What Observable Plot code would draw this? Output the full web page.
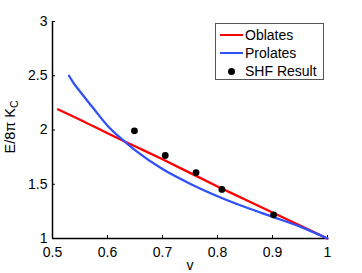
<!DOCTYPE html>
<html>
<head>
<meta charset="utf-8">
<script src="https://cdn.jsdelivr.net/npm/d3@7"></script>
<script src="https://cdn.jsdelivr.net/npm/@observablehq/plot@0.6"></script>
<style>
  html, body { margin: 0; padding: 0; background: #fff; }
  #wrap { position: relative; width: 362px; height: 273px; font-family: "Liberation Sans", Arial, sans-serif; }
  #legend { position: absolute; left: 215px; top: 23px; width: 107px; height: 55px; border: 1px solid #555; background: #fff; font-size: 14px; }
  .row { position: absolute; left: 0; height: 18px; }
  .row span.lbl { position: absolute; left: 29px; top: 0; line-height: 18px; white-space: nowrap; color: #000; }
  .sw { position: absolute; left: 4px; top: 8px; width: 23px; height: 2px; }
  .dotsw { position: absolute; left: 12px; top: 6px; width: 7px; height: 7px; border-radius: 50%; background: #000; }
</style>
</head>
<body>
<div id="wrap"></div>
<script>
// Oblates curve
const oblX = [0.51, 0.55, 0.6, 0.65, 0.7, 0.75, 0.8, 0.85, 0.9, 0.95, 1.0];
const oblY = [2.19, 2.095, 1.97, 1.85, 1.73, 1.605, 1.48, 1.36, 1.24, 1.12, 1.0];
// Prolates curve
const proX = [0.53, 0.54, 0.55, 0.575, 0.6, 0.625, 0.65, 0.7, 0.75, 0.8, 0.85, 0.9, 0.95, 1.0];
const proY = [2.5, 2.42, 2.355, 2.195, 2.04, 1.92, 1.815, 1.64, 1.505, 1.39, 1.29, 1.2, 1.11, 1.0];
// SHF Result points
const shfX = [0.649, 0.705, 0.761, 0.808, 0.902];
const shfY = [1.992, 1.765, 1.608, 1.452, 1.218];
// Ticks
const xTicks = [0.5, 0.6, 0.7, 0.8, 0.9, 1];
const yTicks = [1, 1.5, 2, 2.5, 3];
const seriesNames = ["Oblates", "Prolates", "SHF Result"];

const obl = oblX.map((x, i) => ({x, y: oblY[i]}));
const pro = proX.map((x, i) => ({x, y: proY[i]}));
const shf = shfX.map((x, i) => ({x, y: shfY[i]}));

const chart = Plot.plot({
  width: 362,
  height: 273,
  marginLeft: 52,
  marginRight: 35,
  marginTop: 21,
  marginBottom: 35,
  style: {fontFamily: '"Liberation Sans", Arial, sans-serif', fontSize: "14px", color: "#000", background: "#fff"},
  x: {domain: [0.5, 1]},
  y: {domain: [1, 3]},
  marks: [
    Plot.axisX({ticks: xTicks, tickSize: -3, tickPadding: 12, tickFormat: d => String(d), label: null}),
    Plot.axisY({ticks: yTicks, tickSize: -3, tickPadding: 8, tickFormat: d => String(d), label: null}),
    Plot.ruleY([1], {strokeWidth: 1.5, stroke: "#000"}),
    Plot.ruleX([0.5], {strokeWidth: 1.5, stroke: "#000"}),
    Plot.line(obl, {x: "x", y: "y", stroke: "#ff0000", strokeWidth: 2.3, curve: "monotone-x"}),
    Plot.line(pro, {x: "x", y: "y", stroke: "#3050f8", strokeWidth: 2.3, curve: "monotone-x"}),
    Plot.dot(shf, {x: "x", y: "y", r: 3.4, fill: "#000"})
  ]
});

const svg = d3.select(chart);
// x label
svg.append("text").attr("x", 190).attr("y", 270).attr("text-anchor", "middle")
  .attr("font-size", 14).attr("fill", "#000").text("v");
// y label with subscript
const yl = svg.append("text").attr("transform", "translate(15,127) rotate(-90)")
  .attr("text-anchor", "middle").attr("font-size", 14.5).attr("fill", "#000");
yl.append("tspan").text("E/8π K");
yl.append("tspan").attr("font-size", 10.5).attr("dy", 3).text("C");

const wrap = document.getElementById("wrap");
wrap.appendChild(chart);

const legend = document.createElement("div");
legend.id = "legend";
const rows = [
  {name: seriesNames[0], kind: "line", color: "#ff0000", top: 2},
  {name: seriesNames[1], kind: "line", color: "#3050f8", top: 19.5},
  {name: seriesNames[2], kind: "dot", color: "#000", top: 37.5}
];
rows.forEach(r => {
  const row = document.createElement("div");
  row.className = "row";
  row.style.top = r.top + "px";
  row.style.width = "100%";
  const sw = document.createElement("div");
  if (r.kind === "line") { sw.className = "sw"; sw.style.background = r.color; }
  else { sw.className = "dotsw"; }
  row.appendChild(sw);
  const lbl = document.createElement("span");
  lbl.className = "lbl";
  lbl.textContent = r.name;
  row.appendChild(lbl);
  legend.appendChild(row);
});
wrap.appendChild(legend);
</script>
</body>
</html>
